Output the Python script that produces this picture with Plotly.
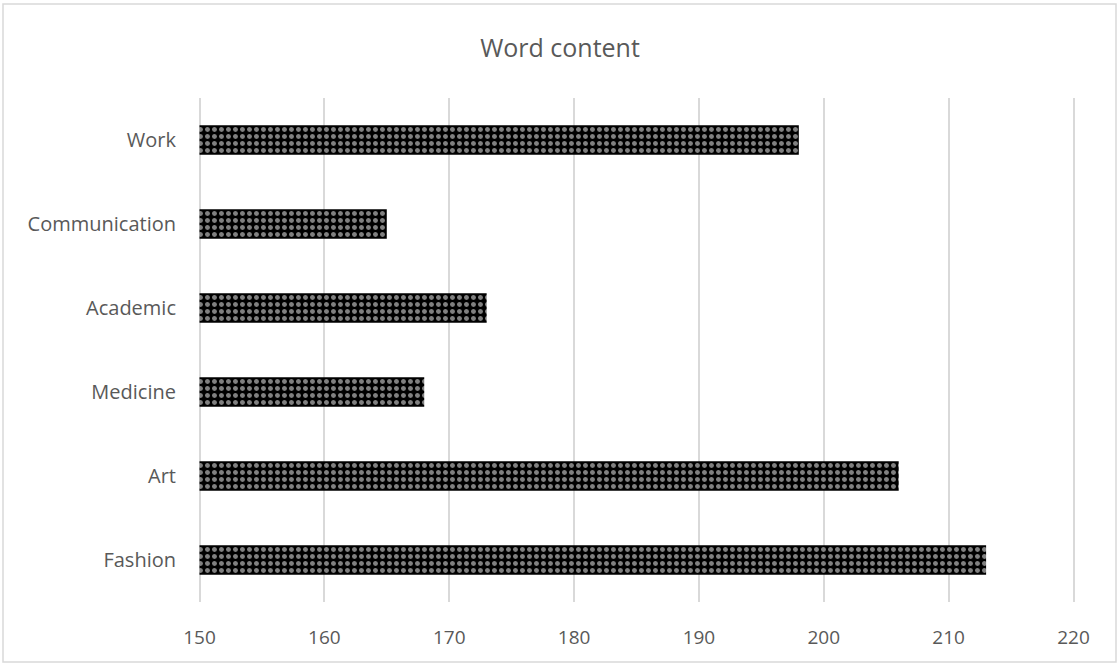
import plotly.graph_objects as go

categories = ["Fashion", "Art", "Medicine", "Academic", "Communication", "Work"]
values = [213, 206, 168, 173, 165, 198]
x_ticks = [150, 160, 170, 180, 190, 200, 210, 220]
base_value = 150

fig = go.Figure()
fig.add_trace(go.Bar(
    x=[v - base_value for v in values], y=categories, orientation="h", base=base_value,
    marker=dict(
        color="black",
        line=dict(width=0),
        pattern=dict(shape=".", fgcolor="white", bgcolor="black", size=7, solidity=0.4),
    ),
))

W, H = 1119, 664
unit = 12.486
pad = 0.2
l = round(199 - pad * unit)
pw = round((70 + 2 * pad) * unit)
r = W - l - pw
t, b = 98, 62
ph = H - t - b

def px_x(p):
    return (p - l) / pw

def px_y(p):
    return (H - b - p) / ph

FONT = "Open Sans, Liberation Sans, sans-serif"
fig.update_layout(
    width=W, height=H,
    margin=dict(l=l, r=r, t=t, b=b),
    paper_bgcolor="white", plot_bgcolor="white",
    bargap=0.65,
    showlegend=False,
    title=dict(text="Word content", x=(560 - l) / pw, xanchor="center", y=1 - 48 / H, yanchor="middle",
               xref="paper",
               font=dict(family=FONT, size=25, color="#595959")),
    font=dict(family=FONT, size=20, color="#595959"),
    xaxis=dict(range=[150 - pad, 220 + pad], tickvals=x_ticks, showgrid=True, gridcolor="#d9d9d9", gridwidth=1.5,
               zeroline=False, showline=False, ticks="outside", ticklen=18, tickcolor="rgba(0,0,0,0)",
               tickfont=dict(size=19, color="#595959")),
    yaxis=dict(showgrid=False, zeroline=False, showline=False, ticks="outside", ticklen=16,
               tickcolor="rgba(0,0,0,0)", tickfont=dict(size=20, color="#595959")),
    shapes=[dict(type="rect", xref="paper", yref="paper",
                 x0=px_x(3), x1=px_x(1116), y0=px_y(662), y1=px_y(4),
                 line=dict(color="#d9d9d9", width=1.5), layer="below")],
)

fig.write_html("out.html")
